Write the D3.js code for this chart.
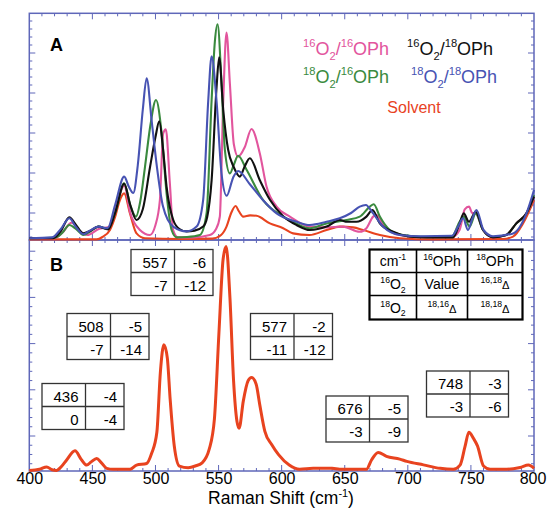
<!DOCTYPE html>
<html>
<head>
<meta charset="utf-8">
<script src="https://cdn.jsdelivr.net/npm/d3@7"></script>
<style>
  body { margin: 0; background: #fff; }
  text { font-family: "Liberation Sans", Arial, sans-serif; }
</style>
</head>
<body>
<svg id="chart" width="547" height="508"></svg>
<script>
// --- data (Raman shift in cm-1, intensity in arbitrary units) ---
var shiftLabels = [400, 450, 500, 550, 600, 650, 700, 750, 800];

// panel A
var pinkA = [[400,3.7],[420,3.7],[426,5],[433.6,7.6],[440,5.5],[446,4.5],[455,6],[463,6.5],[470,13],[475.2,16.8],[480,10],[487.7,5.75],[495.6,4.5],[500,7],[503.5,13.25],[506.1,29.9],[508.2,30.9],[511.4,17.4],[514,5.75],[518,3.9],[530,3.9],[543.1,4.5],[548,6],[551,9.1],[553.7,38],[556.3,55.1],[559,42.2],[562.1,27.2],[565.5,24.1],[570.8,26.5],[576.1,31],[582.7,24.9],[588,16.6],[596,11.6],[606.5,9.1],[622.3,6.6],[635.6,6.4],[648.7,6.6],[661.9,5.3],[667.2,6.2],[672.5,9.1],[675.2,9.5],[680.4,7],[693.6,4.5],[710,4],[735,4],[741,5.75],[745.1,10.9],[748.5,11.6],[751,10],[753.8,9.9],[759.6,5.75],[767.5,3.9],[778,4.5],[786,7.4],[794,9.9],[800,14]];
var blackA = [[400,3.7],[419,3.7],[425,5.5],[431.7,8.9],[437,7],[442.8,4.9],[448,5.5],[454.7,6.6],[462.6,5.9],[468,10],[475.2,17.3],[480,12],[485,8.25],[490,11],[495.6,21.3],[500,29],[503,32.9],[506,26],[508.8,16.6],[514.1,8.25],[519,6],[524.7,5.4],[531,5.6],[537.8,6.6],[541,9],[544.5,18.2],[548.4,41.4],[550.5,48.9],[553.7,35.8],[557.6,25.8],[562,21.5],[566.9,19.1],[570.5,21.5],[574.8,23.7],[582.7,18.2],[590.7,13.3],[601.2,9.2],[611.8,7],[622.3,5.75],[635.6,6.6],[646.1,8.25],[652,7.8],[659.3,7.8],[667.2,9.1],[672,10.75],[677.8,7.4],[688.3,5.3],[701.5,4.1],[715,3.9],[735.8,3.9],[741.1,7.4],[744.3,9.9],[748.5,7.8],[753.8,10.3],[759.6,5.75],[767.5,3.9],[778.1,4.5],[786,7.4],[794,9.9],[800,14.1]];
var greenA = [[400,3.7],[420,3.8],[426,5],[431.7,7],[437,6],[442.8,4.5],[448,5.3],[454.7,6.6],[462,6],[468,10],[475.2,17.4],[480,12],[484.5,9.1],[488,13],[491.6,21.3],[496,32],[500.4,38.25],[504.9,29.9],[508.8,14.9],[512.8,5.75],[516.8,3.9],[525,4],[535.2,4.5],[540.5,9.9],[544.5,38.25],[547.1,53],[549.2,57.2],[552.4,42.2],[555,25.8],[559,19.9],[562,22],[565.5,24.3],[572.2,20.8],[585.3,13.2],[601.2,9.1],[611.8,7.3],[622.3,6.2],[635.6,7.4],[651.4,8.25],[661.9,9.1],[669.9,11.6],[673,12.2],[677.8,9.1],[685.7,5.75],[696.3,4.5],[715,4],[735,4.2],[741,7.8],[744.3,9.1],[749,6.6],[753.8,9.9],[759.6,5.75],[767.5,4],[778,4.5],[786,7.4],[794,9.9],[800,14.5]];
var blueA = [[400,3.7],[418,3.9],[425,6],[431.7,8.7],[437,6.5],[442.8,4.7],[448,5.6],[454.7,6.6],[462,6.2],[468,12],[475.2,19.1],[479,16.5],[482.4,15],[486,22],[490,36],[493,43.7],[497,33],[501,21.9],[506,11.6],[514,6.6],[524.7,5.4],[532.6,6.6],[537.8,13.3],[541.8,38],[544.5,49.2],[548.4,38],[552.4,19.7],[556.4,14.3],[561.6,18.9],[565.5,20.5],[574.8,17.2],[585.3,13.2],[596,9.9],[611.8,7.8],[622.3,7],[635.6,7.8],[646,8.67],[655,10],[661.9,11.6],[666.7,12],[672.5,9.9],[680.4,6.6],[693.6,4.5],[710,4.2],[735,4.3],[739.8,6.6],[743.8,8.67],[747.7,5.75],[751,8.5],[754.4,10.75],[760,5.75],[767.5,4.2],[783.4,4.9],[794,9.9],[800,15.75]];
var solventA = [[400,3.4],[453.4,3.4],[458,4],[463.9,5.75],[468,9],[471.8,13.25],[475.2,14.9],[479.8,9.9],[485,4.9],[491.6,3.7],[520,3.5],[545,3.6],[552,4.5],[556.3,6.6],[560,10],[563.5,11.75],[566,10.5],[569.5,9.1],[575,9.4],[580.1,9.3],[590.7,7.4],[601.2,6.2],[609,4.9],[622,4.5],[635.6,5.75],[646,6.6],[656.6,6.4],[664.6,5.75],[677.8,4.5],[693.6,3.7],[720,3.4],[775,3.5],[783.4,4.1],[791.3,7.4],[800,13.25]];

// panel B (solvent)
var solventB = [[400,5.1],[408,5.6],[413.8,6.6],[418,5.4],[421.7,5.1],[425,6.5],[429.6,9.6],[436.2,13.6],[441.5,9.6],[445.5,7.4],[449,8.8],[453.4,10.3],[457,8.5],[461.3,6],[466.5,5.6],[479.8,5.6],[485,7.4],[493,8.1],[496.9,12.4],[501.1,21.6],[503.9,47.8],[506.7,59.5],[509.4,53.7],[511.6,36.2],[514.9,15.7],[519,7],[525.9,6.3],[531.5,7],[537,8.4],[542.6,14.3],[546.7,27.3],[550.3,64.7],[553.6,96.5],[556,102],[559,80],[561.9,43.9],[564.6,26.3],[566.3,23.4],[569.6,35.1],[573.4,43.9],[576.2,45.3],[579.8,42.4],[582.6,33.7],[586.7,22],[592.2,16.2],[597.7,11.8],[606,7.4],[614.3,5.6],[625,6],[640,6],[646,5.6],[667.2,5.6],[671.2,9.6],[676.5,12.9],[683.1,11.2],[693.6,10],[699.2,9],[712.4,7.5],[725.6,6],[736.1,5.6],[741.4,7.4],[745.3,15.4],[748.4,21.6],[752,19],[755.2,15.7],[760,7],[765.2,5.6],[778.4,5.6],[789,6.4],[795.6,7.4],[800,6]];

// shift tables: [value, 16,18 delta, 18,16 delta, 18,18 delta]
var peakTables = [[557,-6,-7,-12],[508,-5,-7,-14],[577,-2,-11,-12],[436,-4,0,-4],[676,-5,-3,-9],[748,-3,-3,-6]];
var tablePos = [[131,249.5],[67,313.5],[250.5,313.5],[42,383.5],[326,396],[426.5,371]];

// key table
var keyRows = [
  [[["cm","n"],["-1","sup"]], [["16","sup"],["OPh","n"]], [["18","sup"],["OPh","n"]]],
  [[["16","sup"],["O","n"],["2","sub"]], [["Value","n"]], [["16,18","sup"],["\u0394","d"]]],
  [[["18","sup"],["O","n"],["2","sub"]], [["18,16","sup"],["\u0394","d"]], [["18,18","sup"],["\u0394","d"]]]
];

var legendA = [
  {parts: [["16","sup"],["O","n"],["2","sub"],["/","n"],["16","sup"],["OPh","n"]], color: "#e2559d", x: 303, y: 55},
  {parts: [["16","sup"],["O","n"],["2","sub"],["/","n"],["18","sup"],["OPh","n"]], color: "#111111", x: 407, y: 55},
  {parts: [["18","sup"],["O","n"],["2","sub"],["/","n"],["16","sup"],["OPh","n"]], color: "#3a8a3e", x: 303, y: 83},
  {parts: [["18","sup"],["O","n"],["2","sub"],["/","n"],["18","sup"],["OPh","n"]], color: "#4753b3", x: 411, y: 83}
];

var frameColor = "#5f67b9";

var svg = d3.select("#chart");

var x = d3.scaleLinear().domain([400, 800]).range([29.3, 534]);
var yA = d3.scaleLinear().domain([3.25, 59.925]).range([240, 13.3]);
var yB = d3.scaleLinear().domain([4.85, 104.85]).range([471, 240]);

// rich text helper: superscripts / subscripts via tspans
function rich(sel, parts, size) {
  var off = 0;
  parts.forEach(function(p) {
    var k = p[1];
    var target = k === "sup" ? -0.42 * size : (k === "sub" ? 0.25 * size : 0);
    var fs = k === "n" ? size : (k === "d" ? size * 0.8 : size * 0.62);
    sel.append("tspan").text(p[0]).attr("dy", target - off).style("font-size", fs + "px");
    off = target;
  });
}

// frames
[[yA.range()[1], yA.range()[0]], [yB.range()[1], yB.range()[0]]].forEach(function(r) {
  svg.append("rect")
    .attr("x", x.range()[0]).attr("y", r[0])
    .attr("width", x.range()[1] - x.range()[0]).attr("height", r[1] - r[0])
    .attr("fill", "none").attr("stroke", frameColor).attr("stroke-width", 1.5);
});

// ticks (all inward)
var ticks = svg.append("g").attr("stroke", frameColor).attr("stroke-width", 1);
var xMinor = d3.range(410, 800, 10);
function xTicks(yPos, dir) {
  ticks.selectAll(null).data(xMinor).enter().append("line")
    .attr("x1", function(d) { return x(d); }).attr("x2", function(d) { return x(d); })
    .attr("y1", yPos).attr("y2", function(d) { return yPos + dir * (d % 50 === 0 ? 6 : 3); });
}
xTicks(yA.range()[1], 1);
xTicks(yA.range()[0], -1);
xTicks(yB.range()[1], 1);
xTicks(yB.range()[0], -1);

function yTicks(scale, vals, majorStep) {
  [[x.range()[0], 1], [x.range()[1], -1]].forEach(function(s) {
    ticks.selectAll(null).data(vals).enter().append("line")
      .attr("y1", function(d) { return scale(d); }).attr("y2", function(d) { return scale(d); })
      .attr("x1", s[0]).attr("x2", function(d) {
        return s[0] + s[1] * (Math.abs(d % majorStep) < 1e-6 ? 6 : 3);
      });
  });
}
yTicks(yA, d3.range(4, 59, 2), 10);
yTicks(yB, d3.range(8, 104, 4), 20);

// curves
var lineA = d3.line().x(function(d) { return x(d[0]); }).y(function(d) { return yA(d[1]); }).curve(d3.curveMonotoneX);
var lineB = d3.line().x(function(d) { return x(d[0]); }).y(function(d) { return yB(d[1]); }).curve(d3.curveMonotoneX);

var seriesA = [
  {data: solventA, color: "#e8431f"},
  {data: pinkA, color: "#e2559d"},
  {data: greenA, color: "#3a8a3e"},
  {data: blackA, color: "#111111"},
  {data: blueA, color: "#4753b3"}
];
svg.append("g").selectAll("path").data(seriesA).enter().append("path")
  .attr("d", function(d) { return lineA(d.data); })
  .attr("fill", "none")
  .attr("stroke", function(d) { return d.color; })
  .attr("stroke-width", 2.1)
  .attr("stroke-linejoin", "round");

svg.append("path")
  .attr("d", lineB(solventB))
  .attr("fill", "none").attr("stroke", "#e8431f").attr("stroke-width", 3)
  .attr("stroke-linejoin", "round");

// panel letters
svg.append("text").attr("x", 50).attr("y", 51).text("A").style("font-size", "18px").style("font-weight", "bold");
svg.append("text").attr("x", 50).attr("y", 271).text("B").style("font-size", "18px").style("font-weight", "bold");

// legend in A
legendA.forEach(function(l) {
  var t = svg.append("text").attr("x", l.x).attr("y", l.y).attr("fill", l.color);
  rich(t, l.parts, 18);
});
svg.append("text").attr("x", 414).attr("y", 113).attr("text-anchor", "middle")
  .attr("fill", "#e8431f").style("font-size", "16px").text("Solvent");

// peak tables in B
var bw = 82, bh = 46, c1 = 43.5;
peakTables.forEach(function(row, i) {
  var g = svg.append("g").attr("transform", "translate(" + tablePos[i][0] + "," + tablePos[i][1] + ")");
  g.append("rect").attr("width", bw).attr("height", bh).attr("fill", "#fff")
    .attr("stroke", "#333").attr("stroke-width", 1.3);
  g.append("line").attr("x1", 0).attr("x2", bw).attr("y1", bh / 2).attr("y2", bh / 2).attr("stroke", "#333").attr("stroke-width", 1.3);
  g.append("line").attr("x1", c1).attr("x2", c1).attr("y1", 0).attr("y2", bh).attr("stroke", "#333").attr("stroke-width", 1.3);
  var cells = [[c1 - 7, 18, row[0]], [bw - 7, 18, row[1]], [c1 - 7, 41, row[2]], [bw - 7, 41, row[3]]];
  cells.forEach(function(c) {
    g.append("text").attr("x", c[0]).attr("y", c[1]).attr("text-anchor", "end")
      .style("font-size", "15px").text(c[2]);
  });
});

// key table
var colW = [47, 51, 55], rowH = [23, 23, 24];
var kx = 369.5, ky = 249.5;
var kg = svg.append("g").attr("transform", "translate(" + kx + "," + ky + ")");
var tw = d3.sum(colW), th = d3.sum(rowH);
kg.append("rect").attr("width", tw).attr("height", th).attr("fill", "#fff")
  .attr("stroke", "#000").attr("stroke-width", 2.2);
var cx = 0;
colW.slice(0, -1).forEach(function(w) {
  cx += w;
  kg.append("line").attr("x1", cx).attr("x2", cx).attr("y1", 0).attr("y2", th).attr("stroke", "#000").attr("stroke-width", 1.6);
});
var cy = 0;
rowH.slice(0, -1).forEach(function(h) {
  cy += h;
  kg.append("line").attr("x1", 0).attr("x2", tw).attr("y1", cy).attr("y2", cy).attr("stroke", "#000").attr("stroke-width", 1.6);
});
keyRows.forEach(function(r, ri) {
  var top = d3.sum(rowH.slice(0, ri));
  r.forEach(function(cell, ci) {
    var left = d3.sum(colW.slice(0, ci));
    var t = kg.append("text").attr("x", left + colW[ci] / 2).attr("y", top + rowH[ri] / 2 + 5)
      .attr("text-anchor", "middle");
    rich(t, cell, 14);
  });
});

// bottom axis labels
var axis = d3.axisBottom(x).tickValues(shiftLabels).tickSize(0).tickPadding(2);
var ga = svg.append("g").attr("transform", "translate(0," + yB.range()[0] + ")").call(axis);
ga.select(".domain").remove();
ga.selectAll("text").style("font-size", "16px").attr("fill", "#000")
  .style("font-family", "'Liberation Sans', Arial, sans-serif")
  .attr("dx", function(d) { return d === 800 ? -1.5 : 0; });

var xt = svg.append("text").attr("x", 281).attr("y", 504).attr("text-anchor", "middle").style("font-size", "17.5px");
rich(xt, [["Raman Shift (cm", "n"], ["-1", "sup"], [")", "n"]], 17.5);
</script>
</body>
</html>
